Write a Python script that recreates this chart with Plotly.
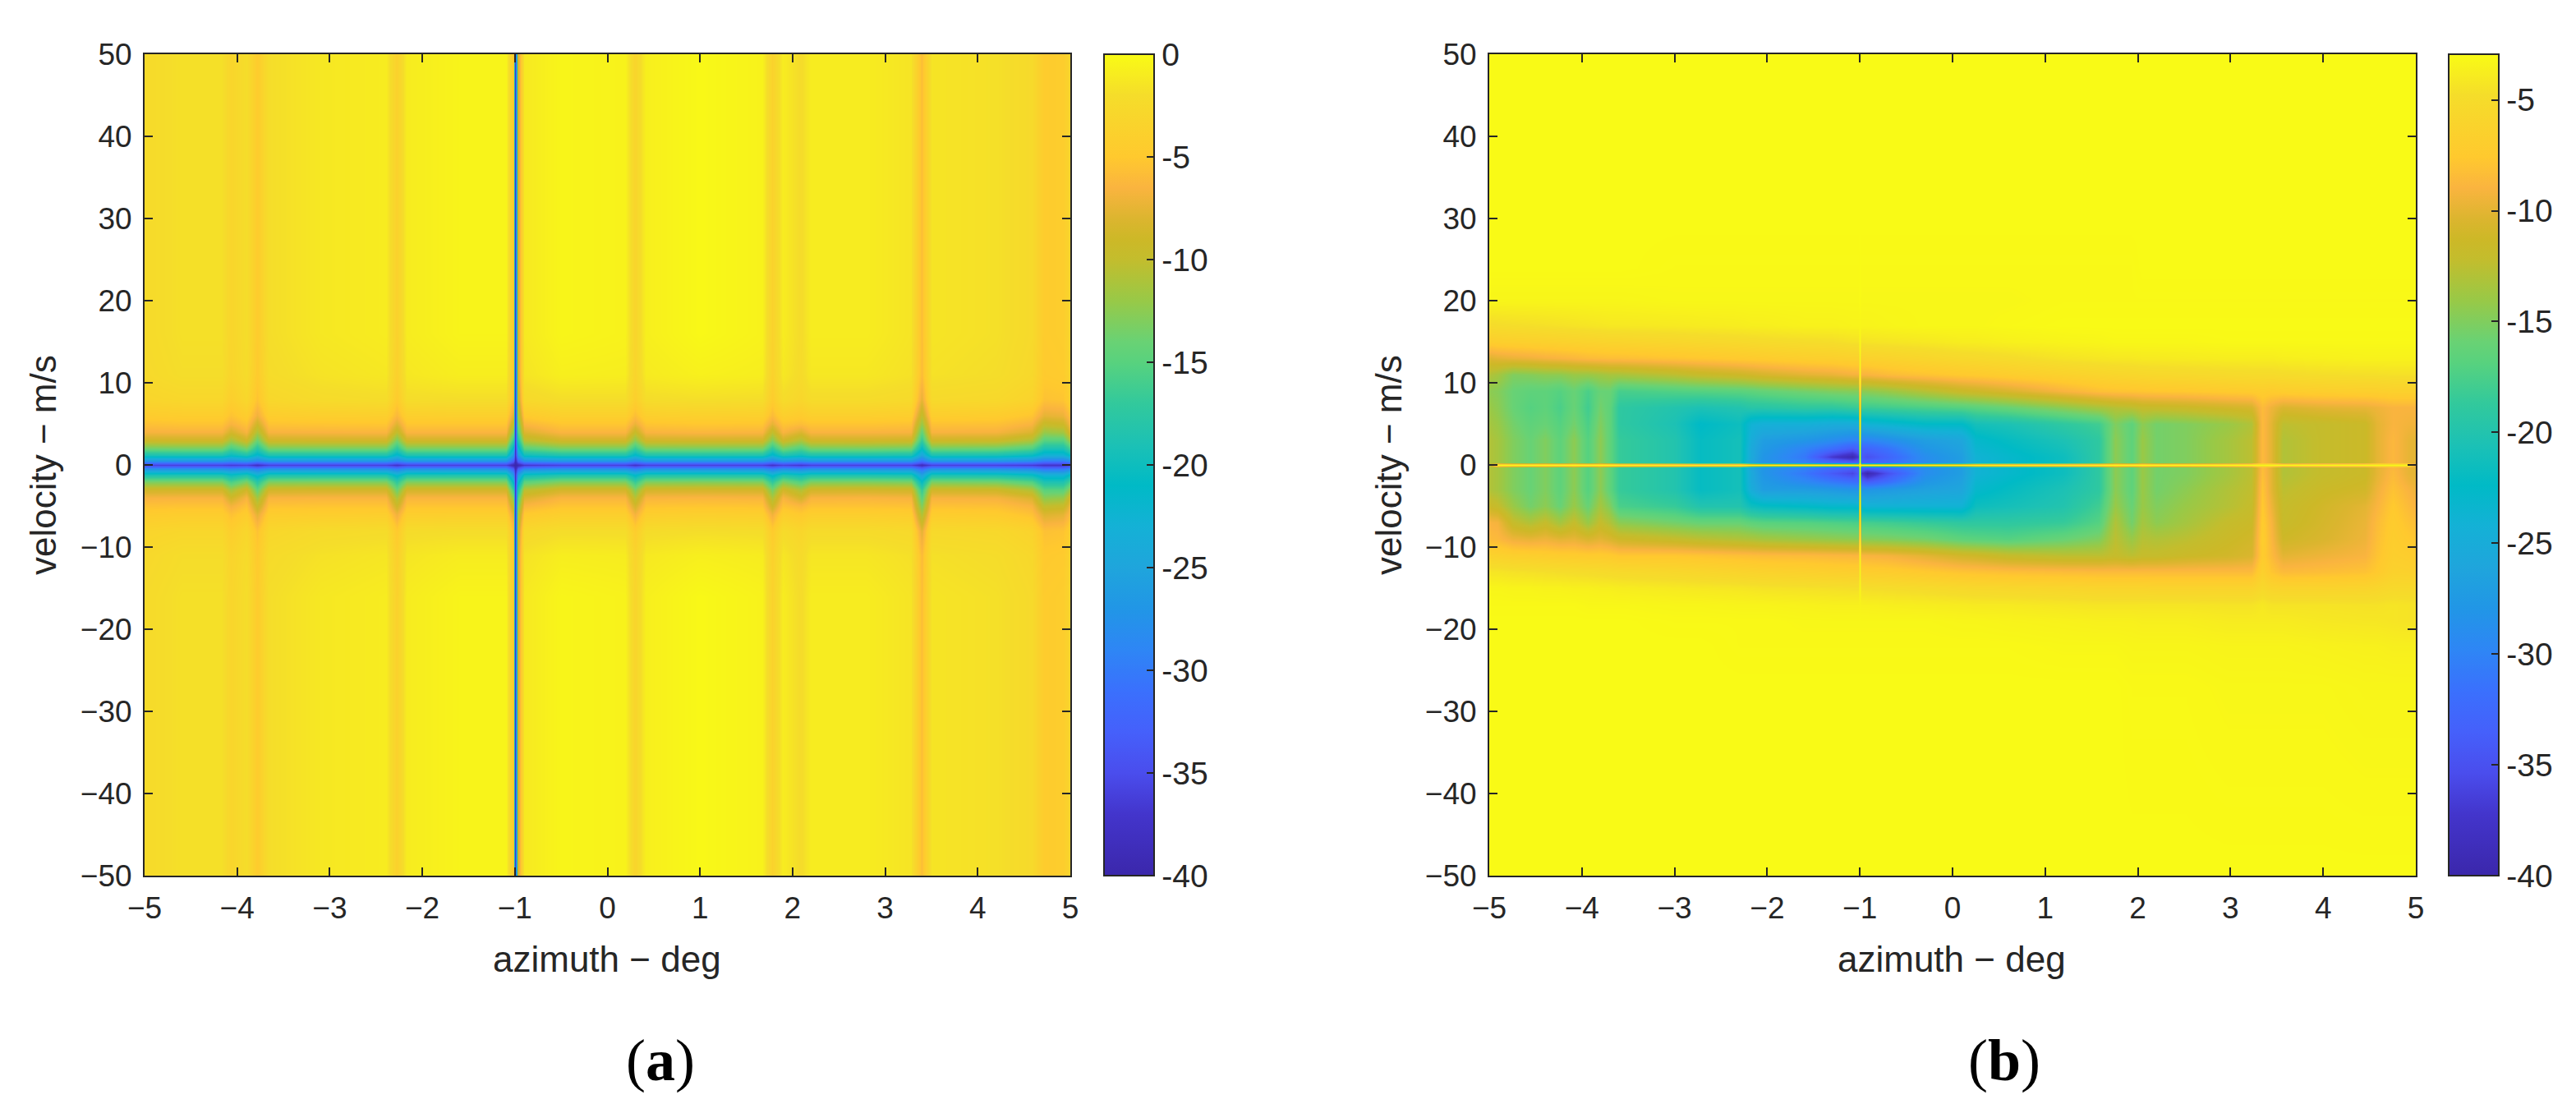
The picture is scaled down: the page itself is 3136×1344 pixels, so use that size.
import plotly.graph_objects as go

# page body keeps its default 8px margin, so the paper is a bit smaller than the window
W, H = 3120, 1328
PAGE_PAD = 8

X_TICKS = [-5, -4, -3, -2, -1, 0, 1, 2, 3, 4, 5]
X_LABELS = ['\u22125', '\u22124', '\u22123', '\u22122', '\u22121', '0', '1', '2', '3', '4', '5']
Y_TICKS = [-50, -40, -30, -20, -10, 0, 10, 20, 30, 40, 50]
Y_LABELS = ['\u221250', '\u221240', '\u221230', '\u221220', '\u221210', '0', '10', '20', '30', '40', '50']

CBAR_A_TICKS = [0, -5, -10, -15, -20, -25, -30, -35, -40]
CBAR_B_TICKS = [-5, -10, -15, -20, -25, -30, -35, -40]

# colour bar, dB -> colour
CMAP_DB = [-40, -37, -35, -33, -31, -29, -27, -25, -23, -21, -19, -17, -15, -14, -12, -10, -9, -8, -6.5, -5, -2, 0]
CMAP_HEX = ['#3b27ab', '#4335cc', '#4a4ded', '#4560fb', '#3a70fd', '#2e86f5', '#2196e6', '#1fa5dc', '#14b1d6',
            '#00bac6', '#1cc1b5', '#32c99c', '#58d27e', '#69d274', '#98c947', '#c3bd2d', '#cdb827', '#dcb52f',
            '#fab43f', '#ffc92e', '#f5dd2a', '#f9fb15']

# panel (a)
AZ_A = [-5.0, -4.6, -4.17, -4.07, -3.9, -3.78, -3.66, -3.1, -2.39, -2.28, -2.17, -1.6, -1.1, -1.02, -1.008, -0.996, -0.984,
        -0.968, -0.9, -0.5, 0.19, 0.3, 0.41, 1.0, 1.67, 1.78, 1.89, 2.09, 2.2, 2.8, 3.28, 3.39, 3.5, 4.2, 4.58, 4.72, 4.92, 5.0]
VEL_A = [50, 25, 16, 11, 8, 6, 5, 4, 3, 2, 1.2, 0.5, 0, -0.5, -1.2, -2, -3, -4, -5, -6, -8, -11, -16, -25, -50]
Z_A = [
    [-2.4, -1.8, -1.8, -3.2, -2.0, -4.6, -2.0, -1.3, -1.0, -3.8, -1.0, -0.5, -0.5, -5, -20, -37, -22, -9, -1.2, -0.4, -0.6, -3.2, -0.8, -0.2, -0.6, -3.6, -1.0, -2.2, -1.0, -1.0, -1.5, -5.8, -1.5, -1.8, -2.5, -4.6, -4.4, -3],
    [-2.4, -1.8, -1.8, -3.2, -2.0, -4.6, -2.0, -1.3, -1.0, -3.8, -1.0, -0.5, -0.5, -5, -20, -37, -22, -9, -1.2, -0.4, -0.6, -3.2, -0.8, -0.2, -0.6, -3.6, -1.0, -2.2, -1.0, -1.0, -1.5, -5.8, -1.5, -1.8, -2.5, -4.6, -4.4, -3],
    [-2.4, -1.8, -1.8, -3.2, -2.0, -4.6, -2.0, -1.3, -1.0, -3.8, -1.0, -0.5, -0.5, -5, -20, -37, -22, -9, -1.2, -0.4, -0.6, -3.2, -0.8, -0.2, -0.6, -3.6, -1.0, -2.2, -1.0, -1.0, -1.5, -5.8, -1.5, -1.8, -2.5, -4.6, -4.4, -3],
    [-2.6, -2.0, -2.0, -3.3, -2.2, -4.7, -2.2, -1.6, -1.3, -3.9, -1.3, -0.9, -0.9, -5.2, -20, -37, -22, -9, -1.5, -0.8, -0.9, -3.3, -1.1, -0.7, -0.9, -3.7, -1.3, -2.3, -1.3, -1.3, -1.7, -5.9, -1.7, -2, -2.7, -4.8, -4.6, -3.3],
    [-3.2, -2.9, -2.9, -4.2, -2.9, -5.4, -2.9, -2.3, -2.1, -4.7, -2.1, -2, -2, -6, -21, -37, -23, -10, -2.6, -2, -2, -4.1, -2.1, -1.9, -2, -4.5, -2.2, -3, -2.2, -2.2, -2.5, -7.4, -2.5, -2.7, -3.4, -5.5, -5.3, -4],
    [-4.6, -4.4, -4.4, -5.5, -4.4, -7, -4.4, -4.2, -4.1, -6.2, -4.1, -4, -4, -8, -22, -37, -24, -12, -4.8, -4, -4, -5.8, -4.1, -3.9, -4, -6, -4.1, -4.7, -4.1, -4.1, -4.3, -10, -4.3, -4.5, -5.3, -7.5, -7.2, -5.5],
    [-5.6, -5.4, -5.4, -6.6, -5.4, -8.8, -5.4, -5.3, -5.2, -7.8, -5.2, -5.2, -5.2, -10, -23, -37, -25, -14, -6.3, -5.2, -5.2, -7.2, -5.3, -5.1, -5.2, -7.5, -5.3, -5.8, -5.3, -5.3, -5.5, -12, -5.5, -5.6, -6.5, -9.5, -9, -6.5],
    [-6.7, -6.6, -6.6, -8.5, -6.6, -11, -6.6, -6.5, -6.4, -10, -6.4, -6.4, -6.4, -13, -24, -37, -26, -16, -8, -6.4, -6.4, -9.5, -6.5, -6.3, -6.4, -10, -6.5, -8, -6.5, -6.5, -6.6, -14.5, -6.6, -6.7, -8, -12, -11.5, -8],
    [-9, -8.9, -8.9, -11.5, -8.9, -14, -8.9, -8.8, -8.8, -13.5, -8.8, -8.8, -8.8, -17, -26, -37, -27, -19, -10.5, -8.8, -8.8, -12.5, -8.8, -8.7, -8.8, -13, -8.9, -11, -8.9, -8.8, -9, -17, -9, -9.2, -11, -15, -15, -11.5],
    [-13.8, -13.6, -13.6, -16, -13.6, -18, -13.6, -13.5, -13.5, -17.5, -13.5, -13.5, -13.5, -22, -29, -38, -30, -23, -15, -13.5, -13.5, -17, -13.5, -13.4, -13.5, -17.5, -13.6, -15.5, -13.6, -13.5, -13.8, -21, -13.8, -14, -15.5, -19, -19, -16],
    [-19, -18.8, -18.8, -20.5, -18.8, -22, -18.8, -18.7, -18.7, -22, -18.7, -18.6, -18.6, -27, -32, -38, -32, -27, -20, -18.6, -18.6, -21.5, -18.6, -18.5, -18.6, -22, -18.7, -20, -18.7, -18.7, -19, -25, -19, -19.2, -20.5, -23, -23, -20.5],
    [-27, -27, -27, -28, -27, -29, -27, -27, -27, -29, -27, -27, -27, -33, -36, -39, -36, -33, -28, -27, -27, -29, -27, -27, -27, -29, -27, -28, -27, -27, -27, -31, -27, -27, -28, -30, -30, -28],
    [-36, -36, -36, -36.5, -36, -38, -36, -36, -36, -37.5, -36, -36, -36, -39.5, -40, -40, -40, -39.5, -37, -36, -36, -37.5, -36, -36, -36, -37.5, -36, -37, -36, -36, -36, -38.5, -36, -36, -36.5, -37.5, -37.5, -36.5],
    [-27, -27, -27, -28, -27, -29, -27, -27, -27, -29, -27, -27, -27, -33, -36, -39, -36, -33, -28, -27, -27, -29, -27, -27, -27, -29, -27, -28, -27, -27, -27, -31, -27, -27, -28, -30, -30, -28],
    [-19, -18.8, -18.8, -20.5, -18.8, -22.5, -18.8, -18.7, -18.7, -22, -18.7, -18.6, -18.6, -27, -32, -38, -32, -27, -20, -18.6, -18.6, -21.5, -18.6, -18.5, -18.6, -22, -18.7, -20, -18.7, -18.7, -19, -25.5, -19, -19.2, -20.5, -23, -23, -20.5],
    [-13.5, -13.4, -13.4, -16, -13.4, -18, -13.4, -13.3, -13.3, -17.5, -13.3, -13.3, -13.3, -22, -29, -38, -30, -23, -15, -13.3, -13.3, -17, -13.3, -13.2, -13.3, -17.5, -13.4, -15.5, -13.4, -13.3, -13.6, -21, -13.6, -13.8, -15.5, -19, -19, -16],
    [-8.8, -8.7, -8.7, -11.5, -8.7, -14.5, -8.7, -8.6, -8.6, -14, -8.6, -8.6, -8.6, -17, -26, -37, -27, -19, -10.5, -8.6, -8.6, -13, -8.6, -8.5, -8.6, -13.5, -8.7, -11, -8.7, -8.6, -8.8, -17, -8.8, -9, -11, -15, -15, -12],
    [-6.6, -6.5, -6.5, -8.8, -6.5, -11.5, -6.5, -6.4, -6.4, -11, -6.4, -6.4, -6.4, -13, -24, -37, -26, -16, -8, -6.4, -6.4, -10.5, -6.4, -6.3, -6.4, -11, -6.5, -8.5, -6.5, -6.4, -6.6, -15, -6.6, -6.7, -8, -12.5, -12, -8.5],
    [-5.5, -5.4, -5.4, -6.8, -5.4, -9.5, -5.4, -5.3, -5.3, -9, -5.3, -5.3, -5.3, -10, -23, -37, -25, -14, -6.3, -5.3, -5.3, -8.5, -5.3, -5.2, -5.3, -9, -5.4, -6.2, -5.4, -5.4, -5.5, -13, -5.5, -5.6, -6.5, -10, -9.5, -7],
    [-4.6, -4.4, -4.4, -5.6, -4.4, -7.6, -4.4, -4.3, -4.2, -7, -4.2, -4.1, -4.1, -8, -22, -37, -24, -12, -4.8, -4.1, -4.1, -6.8, -4.2, -4, -4.1, -7, -4.2, -4.9, -4.2, -4.2, -4.4, -11, -4.4, -4.6, -5.5, -8, -7.6, -5.8],
    [-3.3, -3, -3, -4.3, -3, -5.5, -3, -2.4, -2.2, -4.9, -2.2, -2.1, -2.1, -6, -21, -37, -23, -10, -2.7, -2.1, -2.1, -4.4, -2.2, -2, -2.1, -4.7, -2.3, -3.1, -2.3, -2.3, -2.6, -7.6, -2.6, -2.8, -3.5, -5.6, -5.4, -4.2],
    [-2.7, -2.1, -2.1, -3.4, -2.3, -4.8, -2.3, -1.7, -1.4, -4, -1.4, -1, -1, -5.2, -20, -37, -22, -9, -1.6, -0.9, -1, -3.4, -1.2, -0.8, -1, -3.8, -1.4, -2.4, -1.4, -1.4, -1.8, -6, -1.8, -2.1, -2.8, -4.9, -4.7, -3.4],
    [-2.4, -1.8, -1.8, -3.2, -2.0, -4.6, -2.0, -1.3, -1.0, -3.8, -1.0, -0.5, -0.5, -5, -20, -37, -22, -9, -1.2, -0.4, -0.6, -3.2, -0.8, -0.2, -0.6, -3.6, -1.0, -2.2, -1.0, -1.0, -1.5, -5.8, -1.5, -1.8, -2.5, -4.6, -4.4, -3],
    [-2.4, -1.8, -1.8, -3.2, -2.0, -4.6, -2.0, -1.3, -1.0, -3.8, -1.0, -0.5, -0.5, -5, -20, -37, -22, -9, -1.2, -0.4, -0.6, -3.2, -0.8, -0.2, -0.6, -3.6, -1.0, -2.2, -1.0, -1.0, -1.5, -5.8, -1.5, -1.8, -2.5, -4.6, -4.4, -3],
    [-2.4, -1.8, -1.8, -3.2, -2.0, -4.6, -2.0, -1.3, -1.0, -3.8, -1.0, -0.5, -0.5, -5, -20, -37, -22, -9, -1.2, -0.4, -0.6, -3.2, -0.8, -0.2, -0.6, -3.6, -1.0, -2.2, -1.0, -1.0, -1.5, -5.8, -1.5, -1.8, -2.5, -4.6, -4.4, -3],
]

# panel (b)
AZ_B = [-5, -4.91, -4.74, -4.56, -4.4, -4.24, -4.09, -3.94, -3.8, -3.7, -3.6, -3.0, -2.72, -2.3, -2.17, -2.05, -1.6, -1.3, -1.08,
        -1.02, -1, -0.98, -0.92, -0.7, -0.3, 0.1, 0.25, 0.6, 1.2, 1.58, 1.755, 1.93, 2.05, 2.2, 2.52, 2.97, 3.23, 3.34, 3.44,
        3.56, 4, 4.45, 4.57, 4.75, 4.92, 5]
VEL_B = [50, 30, 24, 20, 17, 15, 13, 11, 9, 7, 5, 3, 2, 1, 0.3, 0, -0.3, -1, -2, -3, -5, -7, -9, -11, -13, -15, -17, -19, -22, -27, -50]
Z_B = [
    [-3, -3, -3, -3, -3, -3, -3, -3, -3, -3, -3, -3, -3, -3, -3, -3, -3, -3, -3, -3, -3, -3, -3, -3, -3, -3, -3, -3, -3, -3, -3, -3, -3, -3, -3, -3, -3, -3, -3, -3, -3, -3, -3, -3, -3, -3],
    [-3, -3, -3, -3, -3, -3, -3, -3, -3, -3, -3, -3, -3, -3, -3, -3, -3, -3, -3, -3, -3, -3, -3, -3, -3, -3, -3, -3, -3, -3, -3, -3, -3, -3, -3, -3, -3, -3, -3, -3, -3, -3, -3, -3, -3, -3],
    [-3, -3, -3, -3, -3, -3, -3, -3, -3, -3, -3, -3.1, -3.1, -3.1, -3.1, -3.1, -3.1, -3.1, -3.1, -3.1, -3, -3.1, -3.1, -3.1, -3.1, -3.1, -3.1, -3.1, -3.1, -3.1, -3.1, -3.1, -3, -3, -3, -3, -3, -3, -3, -3, -3, -3, -3, -3, -3, -3],
    [-3.3, -3.3, -3.3, -3.3, -3.3, -3.3, -3.3, -3.3, -3.3, -3.3, -3.3, -3.2, -3.2, -3.2, -3.2, -3.2, -3.2, -3.2, -3.2, -3.2, -3, -3.2, -3.2, -3.2, -3.2, -3.2, -3.2, -3.2, -3.1, -3.1, -3.1, -3.1, -3.1, -3.1, -3.1, -3.1, -3.1, -3.1, -3.1, -3.1, -3.1, -3.1, -3.1, -3.1, -3.1, -3.1],
    [-5, -4.9, -4.8, -4.7, -4.6, -4.5, -4.4, -4.3, -4.2, -4.1, -4.1, -4, -3.9, -3.8, -3.7, -3.7, -3.5, -3.5, -3.4, -3.4, -3.3, -3.4, -3.4, -3.3, -3.2, -3.2, -3.2, -3.1, -3, -3, -3, -3, -3, -3, -3, -3, -3, -3, -3, -3, -3, -3, -3, -3, -3, -3],
    [-7, -6.8, -6.7, -6.6, -6.5, -6.4, -6.3, -6.2, -6.1, -6, -6, -5.7, -5.5, -5.3, -5.2, -5.1, -4.9, -4.8, -4.5, -4.5, -3.2, -4.5, -4.4, -4.3, -4.1, -3.8, -3.8, -3.6, -3.4, -3.3, -3.2, -3.2, -3.2, -3.2, -3.2, -3.1, -3.1, -3.1, -3.1, -3.1, -3.1, -3.1, -3.1, -3.1, -3.1, -3.1],
    [-10.3, -10, -9.7, -9.5, -9.2, -9, -8.8, -8.5, -8.4, -8.3, -8.3, -7.9, -7.7, -7.4, -7.3, -7.2, -6.8, -6.7, -6.5, -6.5, -3.1, -6.5, -6.4, -6.2, -5.8, -5.4, -5.3, -5, -4.4, -4.2, -4.1, -4.1, -4, -4, -3.9, -3.8, -3.8, -3.8, -3.8, -3.7, -3.6, -3.5, -3.5, -3.5, -3.5, -3.5],
    [-13, -13.5, -15, -14.8, -14.5, -14.5, -14, -14, -13.7, -13.4, -13.4, -12.5, -11.9, -11.3, -11, -10.7, -10, -9.7, -9.2, -9.2, -3.2, -9, -9, -8.5, -8, -7.5, -7.4, -7, -6.4, -6, -5.8, -5.7, -5.6, -5.5, -5.4, -5.2, -5.1, -5.1, -5.1, -5, -4.8, -4.7, -4.7, -4.6, -4.6, -4.6],
    [-14.5, -14.8, -16, -16.5, -16.5, -17, -16, -17.5, -16, -16, -17.7, -17.2, -17, -16.7, -16.5, -16.2, -15.5, -15, -14.8, -14.8, -3.2, -14.6, -14.5, -14, -12.8, -11.6, -11.3, -10.5, -9, -8.2, -8, -7.9, -7.8, -7.7, -7.6, -7.3, -7.2, -7, -7.2, -7, -6.8, -6.7, -6.7, -6.5, -6.5, -6.5],
    [-14, -14.5, -16, -17, -16.5, -17.5, -16, -18, -15.5, -16.5, -19, -20, -20.5, -20, -19.5, -19.5, -19, -19, -18.5, -18.3, -3.2, -18.2, -18.3, -18, -17.5, -17, -16.7, -16, -14.5, -13.4, -12.8, -12.5, -12, -11.9, -11.6, -11, -10.7, -8.5, -9.5, -10.5, -10, -9.8, -9.5, -9, -9, -9],
    [-13.5, -14, -15.5, -16.5, -16, -17, -15.5, -17.5, -15, -16.5, -19, -20.5, -22.5, -21.5, -24, -24.5, -24.5, -25, -25, -24.8, -3.2, -24.5, -24, -23.5, -22.5, -22.5, -21, -20.5, -19, -18, -15, -16.5, -14.5, -15.5, -15, -14, -13, -8.5, -10, -12.5, -12, -11.5, -10, -9, -9.3, -9.3],
    [-13, -13.5, -15, -16, -15, -16.5, -14.5, -17, -14.5, -16.5, -18.5, -20, -22, -21, -25, -27, -28, -29, -30, -30, -3.2, -30, -30, -29, -27, -26, -23, -22, -20.5, -19, -14.5, -16.5, -14, -15.5, -15, -13.5, -12.5, -8.5, -10, -13, -12, -11.5, -10, -8.7, -9.8, -10],
    [-13, -13.5, -15, -16, -15, -16.5, -14.5, -17, -14.5, -16.5, -18.5, -20, -22, -21, -25.5, -27.5, -30, -32, -34, -33, -3.2, -33, -33, -31.5, -28, -26.5, -23.5, -22.5, -21, -19, -14.5, -16.5, -14, -15.5, -15, -13.5, -12.5, -8.5, -10, -13, -12, -11.5, -10, -8.7, -9.8, -10],
    [-13, -13.5, -15, -16, -15, -16.5, -14.5, -17, -14.5, -16.5, -18.5, -20, -22, -21, -25.5, -28, -31, -37, -39.5, -37, -3.2, -34, -35, -33, -29, -27, -24, -23, -21.5, -19, -14.5, -16.5, -14, -15.5, -15, -13.5, -12.5, -8.5, -10, -13, -12, -11.5, -10, -8.7, -9.8, -10],
    [-13, -13.5, -15, -16, -15, -16.5, -14.5, -17, -14.5, -16.5, -18.5, -20, -22, -21, -26, -28, -30, -32, -33, -33, -3.2, -33, -33, -32, -29, -27, -24, -23, -21.5, -19, -14.5, -16.5, -14, -15.5, -15, -13.5, -12.5, -8.5, -10, -13, -12, -11.5, -10, -8.7, -9.8, -10],
    [-13, -3, -3, -3, -3, -3, -3, -3, -3, -3, -3, -3, -3, -3, -3, -3, -3, -3, -3, -3, -3, -3, -3, -3, -3, -3, -3, -3, -3, -3, -3, -3, -3, -3, -3, -3, -3, -3, -3, -3, -3, -3, -3, -3, -3, -10],
    [-13, -13.5, -15, -16, -15, -16.5, -14.5, -17, -14.5, -16.5, -18.5, -20, -22, -21, -26, -28, -30, -32, -33, -33, -3.2, -33, -33, -32, -29, -27, -24, -23, -21.5, -19, -14.5, -16.5, -14, -15.5, -15, -13.5, -12.5, -8.3, -10, -13, -12, -11.5, -10, -8.7, -9.8, -10],
    [-13, -13.5, -15, -16, -15, -16.5, -14.5, -17, -14.5, -16.5, -18.5, -20, -22, -21, -25.5, -28, -31, -34, -36, -34, -3.2, -37, -39.5, -35, -29, -27, -24, -23, -21.5, -19, -14.5, -16.5, -14, -15.5, -15, -13.5, -12.5, -8.2, -10, -13, -12, -11.5, -10, -8.5, -9.8, -10],
    [-13, -13.5, -15, -16, -15, -16.5, -14.5, -17, -14.5, -16.5, -18.5, -20, -22, -21, -25.5, -27.5, -29.5, -31, -32, -32, -3.2, -33, -34, -32, -28, -26.5, -23.5, -22.5, -21, -19, -14.5, -16.5, -14, -15.5, -14.8, -13.3, -12.4, -8, -10, -12.8, -11.8, -11.3, -9.8, -8.3, -9.5, -9.8],
    [-13, -13.5, -15, -16, -15, -16.5, -14.5, -17, -14.5, -16.5, -18.5, -20, -22, -21, -25, -27, -27, -27.5, -28, -28, -3.2, -28, -28, -27.5, -26.5, -26, -23, -22, -20.5, -19, -14.5, -16.5, -14, -15.5, -14.5, -13, -12.3, -7.8, -10, -12.5, -11.5, -11, -9.5, -8, -9, -9.5],
    [-11.5, -12, -14, -15.5, -14.5, -16, -14, -16, -13.5, -15, -17.5, -18.5, -20, -20, -21.5, -22, -22.5, -23, -23, -23.2, -3.2, -23.5, -24, -24, -24, -24, -21.5, -21, -20, -18, -14, -16, -14, -15, -14, -12.8, -12, -7.5, -9.5, -12, -11, -10, -9, -7.5, -8.5, -9],
    [-9, -9.2, -12, -13, -12, -13.5, -12, -14, -12, -13, -14.5, -15.5, -16, -16, -16.5, -16.8, -17, -17.3, -17.5, -17.6, -3.2, -17.7, -17.8, -18, -18.5, -19, -19, -19, -18.5, -17, -13, -15.5, -13.5, -14.5, -13.5, -12, -11.5, -7.2, -9, -11.8, -10.8, -9.7, -8.5, -7.2, -8, -8.3],
    [-8.5, -8.6, -9.5, -9.8, -9.5, -10, -9.8, -10.5, -10, -10.5, -11.2, -12, -12.5, -13, -13.2, -13.5, -14, -14.3, -14.5, -14.6, -3.2, -14.7, -14.8, -15, -15.5, -16.5, -16.7, -17, -16, -15, -12.5, -14, -12.8, -13, -12.5, -11.5, -11, -7, -8.8, -11.2, -10.5, -9.5, -8.3, -7, -7.5, -7.8],
    [-6.3, -6.4, -6.7, -6.8, -7, -7.1, -7.2, -7.3, -7.3, -7.4, -7.7, -7.7, -7.9, -8.2, -8.3, -8.4, -8.5, -8.7, -8.8, -8.8, -3.2, -8.9, -9, -9.2, -10, -11, -11.2, -12, -12.5, -12.5, -12, -12.5, -12, -12, -11.5, -11, -10.5, -7.2, -8.5, -10, -9.5, -9, -8, -6.8, -7, -7.3],
    [-4.3, -4.3, -4.5, -4.6, -4.7, -4.8, -4.9, -5, -5.1, -5.2, -5.3, -5.6, -5.8, -6.1, -6.2, -6.3, -6.5, -6.7, -6.8, -6.8, -3.2, -6.9, -7, -7.1, -7.5, -7.9, -8, -8.2, -8.4, -8.5, -8.5, -8.5, -8.5, -8.5, -8.5, -8.5, -8.5, -6.6, -7.8, -8.5, -8.3, -8, -7.5, -6.4, -6.5, -6.7],
    [-3.3, -3.3, -3.4, -3.4, -3.5, -3.5, -3.6, -3.6, -3.7, -3.7, -3.8, -4, -4.1, -4.2, -4.3, -4.4, -4.5, -4.6, -4.7, -4.7, -3.3, -4.7, -4.8, -4.9, -5.1, -5.4, -5.5, -5.6, -5.8, -6, -6, -6, -6, -6.1, -6.1, -6.1, -6.1, -5.4, -6, -6.1, -6.1, -6, -5.8, -5.4, -5.4, -5.5],
    [-3.1, -3.1, -3.1, -3.1, -3.1, -3.1, -3.1, -3.2, -3.2, -3.2, -3.2, -3.3, -3.3, -3.4, -3.4, -3.4, -3.5, -3.6, -3.6, -3.6, -3.5, -3.6, -3.6, -3.7, -3.8, -3.9, -4, -4, -4.2, -4.3, -4.3, -4.3, -4.3, -4.3, -4.3, -4.4, -4.4, -4.1, -4.4, -4.4, -4.4, -4.5, -4.5, -4.3, -4.4, -4.4],
    [-3, -3, -3, -3, -3, -3, -3, -3, -3, -3, -3, -3.1, -3.1, -3.1, -3.1, -3.1, -3.2, -3.2, -3.2, -3.2, -3.2, -3.2, -3.2, -3.2, -3.2, -3.3, -3.3, -3.4, -3.5, -3.6, -3.6, -3.6, -3.7, -3.7, -3.7, -3.9, -3.9, -3.9, -3.9, -3.9, -4.1, -4.2, -4.2, -4.3, -4.4, -4.4],
    [-3, -3, -3, -3, -3, -3, -3, -3, -3, -3, -3, -3, -3, -3.1, -3.1, -3.1, -3.1, -3.1, -3.1, -3.1, -3.1, -3.1, -3.1, -3.1, -3.1, -3.1, -3.1, -3.1, -3.2, -3.2, -3.2, -3.3, -3.3, -3.3, -3.3, -3.4, -3.4, -3.4, -3.4, -3.4, -3.5, -3.6, -3.6, -3.7, -3.7, -3.7],
    [-3, -3, -3, -3, -3, -3, -3, -3, -3, -3, -3, -3, -3, -3, -3, -3, -3, -3, -3, -3, -3, -3, -3, -3, -3, -3, -3, -3, -3, -3, -3, -3.1, -3.1, -3.1, -3.1, -3.2, -3.2, -3.2, -3.2, -3.2, -3.2, -3.3, -3.3, -3.3, -3.3, -3.3],
    [-3, -3, -3, -3, -3, -3, -3, -3, -3, -3, -3, -3, -3, -3, -3, -3, -3, -3, -3, -3, -3, -3, -3, -3, -3, -3, -3, -3, -3, -3, -3, -3, -3, -3, -3, -3, -3, -3, -3, -3, -3, -3, -3, -3, -3, -3],
]

TEXT = '#262626'
SANS = 'Liberation Sans'

cscale = [[(d + 40) / 40, c] for d, c in zip(CMAP_DB, CMAP_HEX)]


def px(x):
    return (x - PAGE_PAD) / W


def py(y):
    return 1 - (y - PAGE_PAD) / H


def cbar(x_px, ticks):
    return dict(x=px(x_px), xanchor='left', xref='paper', xpad=0,
                y=py(66), yanchor='top', yref='paper', ypad=0,
                len=1000 / H, lenmode='fraction', thickness=61, thicknessmode='pixels',
                outlinecolor=TEXT, outlinewidth=2, tickmode='array', tickvals=ticks,
                ticktext=[str(t) for t in ticks], ticks='inside', ticklen=10, tickwidth=2,
                tickcolor=TEXT, tickfont=dict(family=SANS, size=39, color=TEXT))


def label(text, x_px, y_px, size=44, angle=0, family=SANS, color=TEXT):
    return dict(text=text, x=px(x_px), y=py(y_px), xref='paper', yref='paper', showarrow=False,
                xanchor='center', yanchor='middle', textangle=angle,
                font=dict(family=family, size=size, color=color))


fig = go.Figure()
fig.add_trace(go.Heatmap(x=AZ_A, y=VEL_A[::-1], z=Z_A[::-1], zmin=-40, zmax=0, zsmooth='best',
                         colorscale=cscale, colorbar=cbar(1344, CBAR_A_TICKS), xaxis='x', yaxis='y'))
fig.add_trace(go.Heatmap(x=AZ_B, y=VEL_B[::-1], z=Z_B[::-1], zmin=-40, zmax=-2.94, zsmooth='best',
                         colorscale=cscale, colorbar=cbar(2981, CBAR_B_TICKS), xaxis='x2', yaxis='y2'))

axis_style = dict(showline=True, linecolor=TEXT, linewidth=2, mirror='ticks', ticks='inside', ticklen=10, tickwidth=2,
                  tickcolor=TEXT, tickfont=dict(family=SANS, size=37, color=TEXT), showgrid=False, zeroline=False,
                  tickmode='array', automargin=False)
x_axis = dict(axis_style, range=[-5, 5], tickvals=X_TICKS, ticktext=X_LABELS, ticklabelstandoff=6)
y_axis = dict(axis_style, range=[-50, 50], tickvals=Y_TICKS, ticktext=Y_LABELS, ticklabelstandoff=6)
y_dom = [py(1066), py(66)]

fig.update_layout(
    width=W, height=H, autosize=False, margin=dict(l=0, r=0, t=0, b=0, autoexpand=False),
    paper_bgcolor='white', plot_bgcolor='white', showlegend=False,
    xaxis=dict(x_axis, domain=[px(176), px(1303)], anchor='y'),
    yaxis=dict(y_axis, domain=y_dom, anchor='x'),
    xaxis2=dict(x_axis, domain=[px(1813), px(2941)], anchor='y2'),
    yaxis2=dict(y_axis, domain=y_dom, anchor='x2'),
    annotations=[
        label('azimuth \u2212 deg', 739, 1167),
        label('azimuth \u2212 deg', 2376, 1167),
        label('velocity \u2212 m/s', 52, 566, angle=-90),
        label('velocity \u2212 m/s', 1690, 566, angle=-90),
        label('(<b>a</b>)', 804, 1291, size=72, family='Liberation Serif', color='black'),
        label('(<b>b</b>)', 2440, 1291, size=72, family='Liberation Serif', color='black'),
    ],
)

fig.write_html("out.html")
